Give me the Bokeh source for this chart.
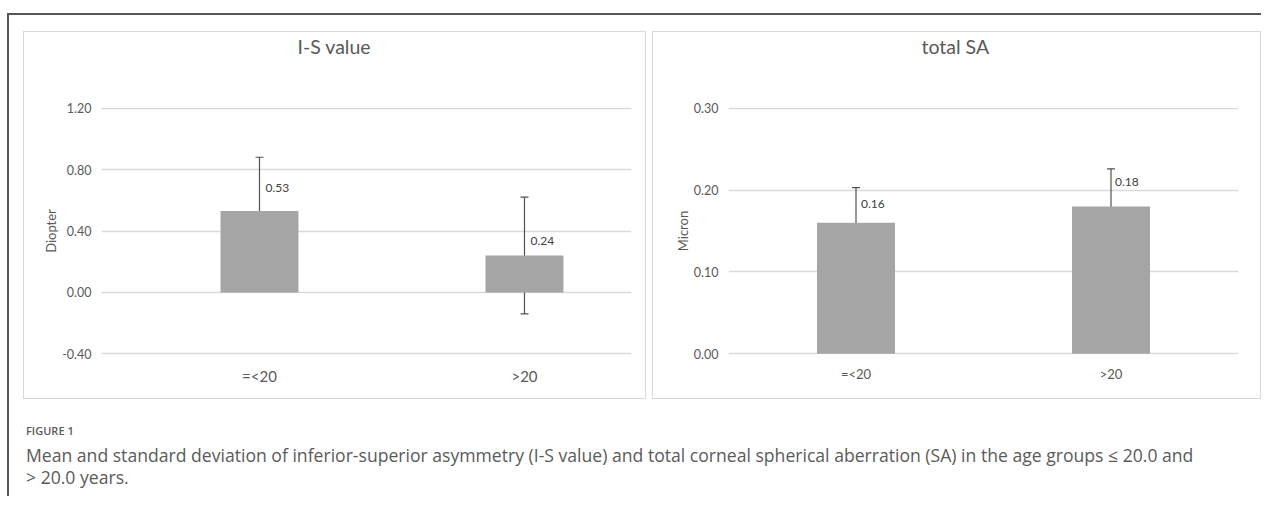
from bokeh.plotting import figure
from bokeh.models import (ColumnDataSource, Whisker, TeeHead, FixedTicker,
                          NumeralTickFormatter, Div, Spacer, Range1d, Title)
from bokeh.layouts import column, row
from bokeh.embed import file_html
from bokeh.resources import INLINE
from bokeh.core.properties import value

# ---- data ----
groups = ["=<20", ">20"]
is_mean = [0.53, 0.24]
is_sd = [0.35, 0.38]
sa_mean = [0.16, 0.18]
sa_sd = [0.043, 0.046]
is_ticks = [-0.40, 0.00, 0.40, 0.80, 1.20]
sa_ticks = [0.00, 0.10, 0.20, 0.30]

FONT = "Lato"
TXT = "#595959"
GRID = "#d9d9d9"
BAR = "#a5a5a5"


def make_panel(title, ylabel, means, sds, ticks, yrange, xrange, size, bar_w,
               frame_borders, title_offset, tick_fs, cat_fs, ylab_standoff,
               tick_standoff, cat_standoff, label_dx, label_dy):
    left, right, top, bottom = frame_borders
    pos = [i + 0.5 for i in range(len(groups))]
    p = figure(x_range=Range1d(*xrange), y_range=Range1d(*yrange),
               width=size[0], height=size[1], output_backend="svg",
               toolbar_location=None, title_location=None,
               min_border_left=left, min_border_right=right,
               min_border_top=top, min_border_bottom=bottom,
               outline_line_color=None, background_fill_color="white",
               border_fill_color="white")
    p.styles = {"border": "1px solid #d9d9d9"}

    # spacing between the title and the plot area
    p.add_layout(Title(text=" ", text_font=FONT, text_font_size="10px",
                       standoff=36), "above")
    p.add_layout(Title(text=title, align="left", offset=title_offset, standoff=0,
                       text_font=FONT, text_font_size="19.5px",
                       text_font_style="normal", text_color=TXT), "above")

    src = ColumnDataSource(dict(
        x=pos, top=means,
        upper=[m + s for m, s in zip(means, sds)],
        lower=[m - s for m, s in zip(means, sds)],
        lab=["%.2f" % m for m in means],
        dx=label_dx, dy=label_dy))

    p.vbar(x="x", top="top", bottom=0, width=bar_w, source=src,
           fill_color=BAR, line_color=None)
    w = Whisker(base="x", upper="upper", lower="lower", source=src,
                line_color="#505050", line_width=1.2,
                upper_head=TeeHead(size=8, line_color="#505050", line_width=1.2),
                lower_head=TeeHead(size=8, line_color="#505050", line_width=1.2))
    p.add_layout(w)
    p.text(x="x", y="top", text="lab", source=src, x_offset="dx", y_offset="dy",
           text_font=value(FONT), text_font_size="12px", text_color="#404040",
           text_align="left", text_baseline="middle")

    p.xgrid.grid_line_color = None
    p.ygrid.grid_line_color = GRID
    p.ygrid.grid_line_width = 1.5
    p.yaxis.ticker = FixedTicker(ticks=ticks)
    p.yaxis.formatter = NumeralTickFormatter(format="0.00")
    p.xaxis.ticker = FixedTicker(ticks=pos)
    p.xaxis.major_label_overrides = {x: g for x, g in zip(pos, groups)}
    for ax in (p.xaxis, p.yaxis):
        ax.axis_line_color = None
        ax.major_tick_line_color = None
        ax.minor_tick_line_color = None
        ax.major_tick_out = 0
        ax.major_tick_in = 0
        ax.major_label_text_font = FONT
        ax.major_label_text_color = TXT
    p.yaxis.major_label_text_font_size = tick_fs
    p.xaxis.major_label_text_font_size = cat_fs
    p.yaxis.major_label_standoff = tick_standoff
    p.xaxis.major_label_standoff = cat_standoff
    p.yaxis.axis_label = ylabel
    p.yaxis.axis_label_text_font = FONT
    p.yaxis.axis_label_text_font_size = "13px"
    p.yaxis.axis_label_text_font_style = "normal"
    p.yaxis.axis_label_text_color = TXT
    p.yaxis.axis_label_standoff = ylab_standoff
    return p


p1 = make_panel("I-S value", "Diopter", is_mean, is_sd, is_ticks, (-0.404, 1.204),
                (-0.0962, 1.9038), (623, 368), 0.294, (77, 16, 75, 46), 196,
                "12.5px", "15px", 0, 10, 12, [6, 6], [-23, -15])
p2 = make_panel("total SA", "Micron", sa_mean, sa_sd, sa_ticks, (-0.001, 0.301),
                (0.0, 2.0), (609, 368), 0.306, (75, 24, 75, 41), 193,
                "12.5px", "13px", 0, 10, 11, [5, 4], [-19, -24])

caption = Div(text=(
    "<div style=\"font-family:'Open Sans',sans-serif;color:#5a5a5a;white-space:nowrap;\">"
    "<div style=\"font-size:11px;line-height:16px;font-weight:600;\">FIGURE 1</div>"
    "<div style=\"font-size:17.6px;line-height:22px;margin-top:5px;\">"
    "Mean and standard deviation of inferior-superior asymmetry (I-S value) and total "
    "corneal spherical aberration (SA) in the age groups \u2264 20.0 and<br>"
    "&gt; 20.0 years.</div></div>"), width=1220, height=65)

panels = row(Spacer(width=14), p1, Spacer(width=6), p2, spacing=0)
cap_row = row(Spacer(width=12), caption, spacing=0)
outer = column(Spacer(height=16), panels, Spacer(height=19), cap_row, Spacer(height=3),
               spacing=0,
               styles={"border-top": "2px solid #555555", "border-left": "2px solid #555555",
                       "margin-top": "13px", "margin-left": "7px"})

open("out.html", "w").write(file_html(outer, INLINE))
